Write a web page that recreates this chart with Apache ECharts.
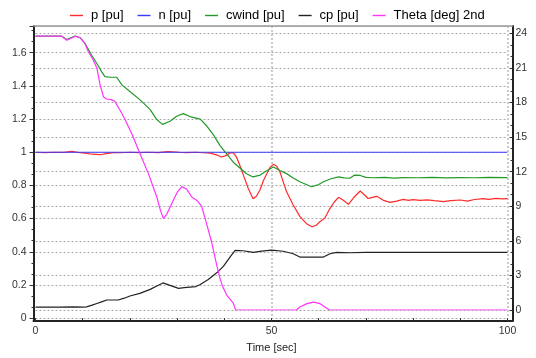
<!DOCTYPE html>
<html>
<head>
<meta charset="utf-8">
<script src="https://cdn.jsdelivr.net/npm/echarts@6/dist/echarts.min.js"></script>
<style>
  html, body { margin: 0; padding: 0; background: #fff; }
  #chart { width: 536px; height: 358px; }
</style>
</head>
<body>
<div id="chart"></div>
<script>
// Active power p [pu]
const pTime = [0, 2, 4, 6, 7.7, 9, 10.5, 12, 13.7, 15, 16.5, 18, 20, 22, 24, 26, 28, 29, 30.5, 32, 34, 35.5, 37, 38.5, 39.3, 40.2, 41.2, 41.9, 42.6, 43.3, 44.2, 45.1, 46.1, 46.8, 47.6, 48.3, 49.0, 49.7, 50.4, 51.1, 51.8, 52.5, 53.2, 54.6, 56.0, 57.5, 58.6, 59.5, 60.3, 61.3, 62.4, 63.3, 64.2, 65.2, 66.3, 67.5, 68.8, 69.6, 70.5, 71.4, 72.3, 73.0, 73.7, 75.1, 76.5, 77.9, 79, 80, 81.5, 83, 84.5, 86.4, 88, 90, 91.5, 93, 94.9, 96, 97.5, 99, 100];
const pVals = [1.0, 0.998, 1.0, 0.999, 1.005, 0.999, 0.995, 0.988, 0.985, 0.992, 0.998, 0.997, 1.0, 0.998, 1.0, 0.998, 1.004, 1.003, 1.0, 0.998, 1.0, 0.997, 0.995, 0.983, 0.971, 0.978, 0.996, 0.997, 0.97, 0.92, 0.85, 0.78, 0.72, 0.735, 0.775, 0.83, 0.87, 0.91, 0.927, 0.915, 0.881, 0.82, 0.762, 0.682, 0.613, 0.567, 0.551, 0.56, 0.583, 0.603, 0.662, 0.70, 0.728, 0.71, 0.686, 0.73, 0.766, 0.745, 0.721, 0.728, 0.734, 0.722, 0.71, 0.698, 0.705, 0.716, 0.71, 0.714, 0.71, 0.713, 0.708, 0.702, 0.708, 0.712, 0.705, 0.715, 0.72, 0.716, 0.722, 0.719, 0.72];

// Rotor speed n [pu]
const nTime = [0, 100];
const nVals = [1.0, 1.0];

// Wind speed cwind [pu]
const wTime = [0, 5.5, 6.6, 7.5, 8.4, 9.5, 10.5, 11.9, 13.0, 14.0, 14.7, 15.8, 17.2, 18.3, 20.0, 22.1, 24.3, 25.7, 26.9, 28.5, 29.9, 31.3, 32.7, 34.9, 36.3, 37.7, 39.1, 40.5, 41.9, 43.3, 44.7, 46.1, 47.6, 48.8, 50.4, 51.8, 53.2, 54.6, 56.0, 58.5, 60.0, 61.0, 62.6, 64.2, 65.4, 66.6, 67.6, 68.8, 70.0, 71.5, 74, 76, 78, 81, 84, 87, 90, 93, 96, 100];
const wVals = [1.70, 1.70, 1.68, 1.69, 1.70, 1.69, 1.655, 1.585, 1.535, 1.486, 1.456, 1.452, 1.452, 1.406, 1.366, 1.317, 1.257, 1.197, 1.168, 1.187, 1.217, 1.233, 1.215, 1.20, 1.158, 1.105, 1.04, 0.99, 0.94, 0.905, 0.87, 0.851, 0.862, 0.885, 0.911, 0.89, 0.871, 0.845, 0.822, 0.792, 0.805, 0.822, 0.84, 0.851, 0.845, 0.843, 0.862, 0.86, 0.848, 0.846, 0.848, 0.844, 0.847, 0.846, 0.848, 0.845, 0.847, 0.846, 0.848, 0.847];

// Power coefficient cp [pu]
const cpTime = [0, 5, 8, 10, 10.8, 12, 13.0, 14, 15.1, 17.5, 18.8, 20.0, 22.1, 24.3, 25.7, 27.0, 28.5, 30.3, 31.5, 32.7, 34.0, 34.9, 36.6, 38.4, 39.8, 41.2, 42.3, 44.0, 46.1, 47.9, 50.0, 52.5, 54.6, 56.0, 61.0, 62.4, 63.8, 66.6, 70, 80, 90, 100];
const cpVals = [0.066, 0.066, 0.068, 0.066, 0.068, 0.078, 0.088, 0.098, 0.109, 0.109, 0.12, 0.133, 0.149, 0.173, 0.193, 0.212, 0.197, 0.179, 0.184, 0.187, 0.19, 0.203, 0.233, 0.273, 0.312, 0.368, 0.408, 0.406, 0.396, 0.404, 0.41, 0.403, 0.388, 0.368, 0.368, 0.388, 0.396, 0.394, 0.396, 0.396, 0.396, 0.396];

// Pitch angle Theta [deg], plotted against the second axis
const thTime = [0, 5.5, 6.6, 7.5, 8.4, 9.5, 10.5, 11.2, 12.2, 13.0, 13.7, 14.4, 15.0, 16.0, 16.8, 17.9, 19.0, 20.5, 22.1, 23.9, 25.7, 26.5, 27.1, 27.8, 28.9, 30.0, 31.0, 32.0, 33.1, 34.2, 35.2, 36.3, 37.3, 38.4, 39.1, 39.8, 40.5, 41.3, 41.9, 42.4, 55.3, 56.0, 57.5, 58.9, 60.3, 61.3, 62.3, 100];
const thVals = [23.76, 23.76, 23.4, 23.55, 23.75, 23.6, 23.1, 22.4, 21.7, 21.0, 19.5, 18.5, 18.3, 18.25, 18.1, 17.35, 16.5, 15.2, 13.6, 11.85, 9.8, 8.6, 7.95, 8.3, 9.25, 10.2, 10.7, 10.5, 9.8, 9.5, 9.0, 7.4, 5.9, 3.9, 2.7, 1.9, 1.3, 0.9, 0.6, 0, 0, 0.26, 0.55, 0.69, 0.55, 0.26, 0, 0];

// Series names and colours
const seriesNames = ['p [pu]', 'n [pu]', 'cwind [pu]', 'cp [pu]', 'Theta [deg] 2nd'];
const seriesColors = ['#ff2a2a', '#3b3bff', '#23992a', '#222222', '#ff33ff'];

// Axis tick settings
const xInterval = 50;
const puInterval = 0.2;
const degInterval = 3;

const pair = (ts, vs) => ts.map((t, i) => [t, vs[i]]);

const FONT = '"Liberation Sans", Arial, sans-serif';
const gridDots = { color: '#aaa', type: [2, 2], width: 1 };
const hidden = { show: false };

function frameAxis(extra) {
  return Object.assign({
    type: 'value', min: 0, max: 1,
    axisTick: hidden, axisLabel: hidden, splitLine: hidden, minorTick: hidden
  }, extra);
}

function lineSeries(i, data, xIdx, yIdx) {
  return {
    name: seriesNames[i], type: 'line', xAxisIndex: xIdx, yAxisIndex: yIdx,
    symbol: 'none', color: seriesColors[i], lineStyle: { width: 1.2 }, data: data
  };
}

const chart = echarts.init(document.getElementById('chart'), null, { renderer: 'canvas' });

const option = {
  animation: false,
  backgroundColor: '#fff',
  textStyle: { fontFamily: FONT },
  legend: {
    left: 65, top: 4,
    icon: 'rect',
    itemWidth: 13, itemHeight: 1.4, itemGap: 14,
    itemStyle: { borderWidth: 0 },
    lineStyle: { width: 0 },
    textStyle: { fontFamily: FONT, fontSize: 13, color: '#000', padding: [0, 0, 0, 3] },
    data: seriesNames.map((name, i) => ({
      name: name,
      itemStyle: { color: seriesColors[i], borderWidth: 0 }
    }))
  },
  grid: [
    { left: 33.5, right: 23.5, top: 26, bottom: 37 },
    { left: 35.5, right: 28.5, top: 26, bottom: 37 },
    { left: 35.5, right: 28.5, top: 33.3, bottom: 48 }
  ],
  xAxis: [
    frameAxis({ gridIndex: 0, position: 'bottom', axisLine: { onZero: false, lineStyle: { color: '#222', width: 2 } } }),
    frameAxis({ gridIndex: 0, position: 'top', axisLine: { onZero: false, lineStyle: { color: '#999', width: 1.5 } } }),
    {
      gridIndex: 1, type: 'value', min: 0, max: 100, interval: xInterval,
      name: 'Time [sec]', nameLocation: 'middle', nameGap: 21,
      nameTextStyle: { fontFamily: FONT, fontSize: 11, color: '#222' },
      axisLine: { show: false, onZero: false },
      axisTick: { show: true, length: 3, lineStyle: { color: '#333' } },
      minorTick: { show: true, splitNumber: 5, length: 3, lineStyle: { color: '#333' } },
      axisLabel: { fontFamily: FONT, fontSize: 10.5, color: '#333', margin: 8 },
      splitLine: { show: true, showMinLine: false, lineStyle: { color: '#bbb', type: [2, 2], width: 1.5 } }
    },
    { gridIndex: 2, type: 'value', min: 0, max: 100, show: false }
  ],
  yAxis: [
    frameAxis({ gridIndex: 0, position: 'left', axisLine: { onZero: false, lineStyle: { color: '#222', width: 2 } } }),
    frameAxis({ gridIndex: 0, position: 'right', axisLine: { onZero: false, lineStyle: { color: '#222', width: 2 } } }),
    {
      gridIndex: 1, type: 'value', position: 'left', offset: 2,
      min: 0, max: 1.761, interval: puInterval,
      axisLine: { show: false, onZero: false },
      axisTick: { show: true, length: 4, lineStyle: { color: '#333' } },
      minorTick: { show: true, splitNumber: 3, length: 2, lineStyle: { color: '#333' } },
      axisLabel: { fontFamily: FONT, fontSize: 10.5, color: '#333', margin: 7, showMaxLabel: false },
      splitLine: { show: true, lineStyle: gridDots }
    },
    {
      gridIndex: 2, type: 'value', position: 'right', offset: 5,
      min: 0, max: 24, interval: degInterval,
      axisLine: { show: false, onZero: false },
      axisTick: { show: true, inside: true, length: 3, lineStyle: { color: '#333' } },
      minorTick: { show: true, splitNumber: 3, length: 2, lineStyle: { color: '#333' } },
      axisLabel: { fontFamily: FONT, fontSize: 10.5, color: '#333', margin: 3 },
      splitLine: { show: true, lineStyle: gridDots }
    }
  ],
  series: [
    lineSeries(0, pair(pTime, pVals), 2, 2),
    lineSeries(1, pair(nTime, nVals), 2, 2),
    lineSeries(2, pair(wTime, wVals), 2, 2),
    lineSeries(3, pair(cpTime, cpVals), 2, 2),
    lineSeries(4, pair(thTime, thVals), 3, 3)
  ]
};

chart.setOption(option);
</script>
</body>
</html>
